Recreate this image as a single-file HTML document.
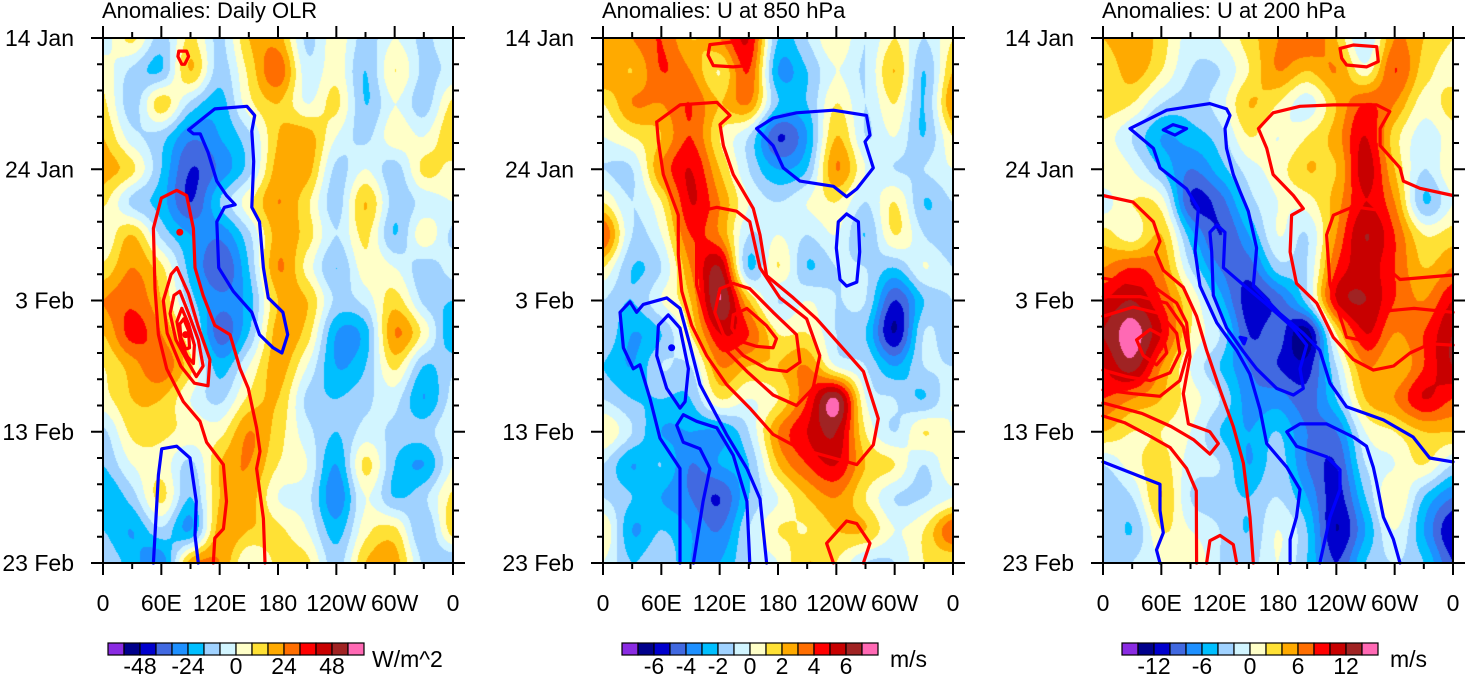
<!DOCTYPE html>
<html><head><meta charset="utf-8"><title>Hovmoller anomalies</title>
<style>
html,body{margin:0;padding:0;background:#fff;}
#wrap{position:relative;width:1466px;height:676px;overflow:hidden;font-family:"Liberation Sans",Arial,sans-serif;}
canvas{position:absolute;top:38px;}
svg{position:absolute;left:0;top:0;}
text{font-family:"Liberation Sans",Arial,sans-serif;fill:#000;}
</style></head>
<body>
<div id="wrap">
<canvas id="c0" width="350" height="525" style="left:103px"></canvas>
<canvas id="c1" width="350" height="525" style="left:603px"></canvas>
<canvas id="c2" width="350" height="525" style="left:1103px"></canvas>
<svg id="s" width="1466" height="676"></svg>
</div>
<script>
const colors=['#8a2be2','#00008b','#0000cd','#4169e1','#1e90ff','#00bfff','#a0d2ff','#d2f5ff','#ffffc8','#ffe135','#ffaa00','#ff6e00','#ff0000','#c80000','#a02323','#ff69b4'];
const titles=['Anomalies: Daily OLR','Anomalies: U at 850 hPa','Anomalies: U at 200 hPa'];
const units=['W/m^2','m/s','m/s'];
const steps=[8,1,2];
const cbLabels=[['-48','-24','0','24','48'],['-6','-4','-2','0','2','4','6'],['-12','-6','0','6','12']];
const cbLabelIdx=[[1,4,7,10,13],[1,3,5,7,9,11,13],[1,4,7,10,13]];
const yTickLabels=['14 Jan','24 Jan','3 Feb','13 Feb','23 Feb'];
const yTickDays=[0,10,20,30,40];
const xTickLabels=['0','60E','120E','180','120W','60W','0'];
const xTickLons=[0,60,120,180,240,300,360];
// grids: rows = day 0..40 step 2.5, cols = lon 0..360 step 30
const olr=[
[-5,10,-12,10,-10,16,20,-10,5,-12,0,-10,0],
[5,-10,-16,16,-12,10,30,-5,5,-16,8,-10,-5],
[10,-12,12,-10,-20,5,16,0,10,-16,0,-12,10],
[16,-5,-12,-30,-24,-10,16,20,0,-10,5,0,16],
[20,10,-16,-40,-30,-12,20,20,-10,0,-12,10,5],
[10,-10,-20,-40,-16,5,24,10,-12,16,-12,-5,0],
[0,16,-10,-24,-30,-10,20,12,-8,10,-16,5,-10],
[10,24,10,-20,-40,-16,24,5,-16,5,0,-12,-5],
[24,30,16,-12,-30,-20,16,16,-10,-5,12,-10,-16],
[16,35,24,0,-36,-16,20,12,-24,-20,24,5,-24],
[8,20,30,10,-20,0,20,0,-24,-16,10,-16,-10],
[5,16,16,0,-10,10,16,-10,-16,-10,-5,-24,-5],
[-10,10,10,5,5,24,12,-5,-16,-5,-10,-12,0],
[-16,0,5,-10,16,24,8,0,-24,10,-16,-24,0],
[-24,-12,10,-16,16,20,0,-5,-30,0,-16,-10,10],
[-16,-24,-10,-24,20,16,10,0,-20,5,10,-16,12],
[-10,-20,-30,20,24,0,10,10,-12,16,20,-10,-16]];
const u850=[
[2,3,4,2,3,5,-2,-1,1,-1,1,-1,1],
[3,2,4,3,1,4,-3,-2,0,-1,2,-2,2],
[1,3,3,4,2,3,-2,-2,1,-1,1,-2,3],
[0,1,2,4,1,-1,-5,-3,2,-1,0,-2,1],
[-1,-1,3,5,2,-1,-3,-2,3,0,-1,-1,0],
[1,-1,1,5,3,0,-1,0,1,-1,1,-2,-1],
[4,-1,0,4,3,-1,0,-1,0,-2,1,-1,-2],
[1,-2,-1,3,6,-2,1,-2,-1,-1,-2,0,-1],
[-1,-2,0,2,7,2,-1,0,-1,-1,-5,-2,-1],
[-1,-3,-2,1,5,4,1,1,-1,-2,-6,-1,-2],
[-2,-3,-1,-1,3,2,2,3,0,-1,-3,-1,-1],
[-1,-2,-2,-2,1,0,1,4,7,0,-1,-2,0],
[1,-1,-3,-3,-3,-1,3,5,6,1,-1,1,0],
[-1,-3,-2,-4,-3,-2,2,4,5,2,1,-1,1],
[-1,-2,-3,-4,-5,-2,0,2,3,1,-1,-1,0],
[1,-3,-2,-3,-4,-1,1,1,2,2,0,1,4],
[0,-2,-1,-3,-3,-1,0,2,1,-1,-1,1,1]];
const u200=[
[4,6,3,-1,0,3,6,8,4,-2,6,4,2],
[2,5,2,-2,-2,2,6,4,6,1,8,3,1],
[3,2,-2,-3,-1,4,2,-1,4,8,6,1,3],
[1,-2,-6,-5,-3,2,0,2,5,10,3,-1,1],
[2,0,-4,-8,-5,-1,1,4,4,11,4,-2,2],
[-1,2,1,-10,-9,-3,0,1,5,10,6,-4,0],
[3,1,4,-5,-10,-6,0,-2,6,12,8,2,3],
[6,8,6,-2,-8,-9,-3,-2,8,11,8,4,6],
[10,12,8,2,-5,-11,-9,-3,10,12,8,6,10],
[12,15,10,2,-2,-10,-9,-13,2,10,6,8,12],
[10,13,6,0,-4,-8,-10,-11,-2,6,4,8,12],
[8,6,4,1,-2,-7,-7,-9,-4,4,6,10,8],
[4,2,2,0,-4,-6,-4,-8,-8,0,2,4,4],
[-2,1,3,-1,-2,-6,-3,-8,-10,-2,0,2,-2],
[-4,-2,4,-2,-3,-4,-2,-6,-11,-4,2,-4,-8],
[-2,-4,2,0,-2,-4,0,-4,-12,-6,0,-6,-12],
[-4,-2,0,2,-2,-3,0,-4,-10,-4,-2,-4,-10]];
// contours: [lon, day] points
const p1Red=[
[[78,1],[86,1],[88,1.4],[84,2],[81,2],[77,1.4],[78,1]],
[[113.5,40],[115,38.1],[123.8,37.4],[127,35.3],[123.8,32.5],[106.6,30.8],[99.8,29.2],[82.6,27.7],[65.5,25.2],[57,22.6],[53.5,19.1],[51.8,14.5],[60,12.2],[75.8,11.6],[86,12],[93,14.5],[94.6,17.5],[103,19.6],[115,21.9],[130.6,22.6],[141,25.2],[149.5,26.7],[158,29.7],[161.5,31.5],[158,32.8],[165,36.6],[166.6,40]],
[[76,17.5],[88,19.5],[98,22],[110,24.5],[108,26.5],[94,26.3],[80,25],[66,22.5],[62,20],[70,18],[76,17.5]],
[[79,19.3],[88,21],[98,23],[103,25],[96,25.8],[86,24.5],[75,23],[69,21],[73,19.6],[79,19.3]],
[[81,20.6],[88,21.8],[94,23.4],[93,24.8],[87,24.3],[80,23.2],[76,21.6],[81,20.6]],
[[83,21.4],[88,22.3],[89,23.6],[85,23.7],[80,22.8],[79,21.8],[83,21.4]]];
const p1Blue=[
[[88,7],[98,6.4],[115,5.4],[148,5.2],[156,5.9],[153,7.1],[155,9.4],[153,12.9],[161,14],[165,17.5],[170,19.8],[185,20.9],[190,22.6],[184,24],[175,23.6],[161,22.6],[153,20.9],[134,19.3],[119,17.5],[117,14],[125,12.9],[136,12.7],[127,12],[117,10.9],[108,8.7],[100,7.3],[93,7.3],[88,7]],
[[51.8,40],[57,33.3],[60.4,31.3],[75.8,31.1],[89.5,32],[96,35.3],[94.6,37.9],[98,40]]];
const p1Dots=[[85,22.6,'r'],[79,14.8,'r']];
const p2Red=[
[[110,0.5],[134,0.3],[146,0.9],[148,2.1],[134,2.2],[113.5,2.1],[108,1.3],[110,0.5]],
[[55.2,6.4],[79.2,5.1],[117,4.9],[130.6,5.9],[120.3,6.6],[123.8,8.2],[134,10.4],[154.6,13],[161.5,15],[168.3,18.1],[195.8,19.8],[219.8,21.4],[243.8,23.4],[267.8,25.4],[274.6,27],[283.2,29],[278,31],[261,32.5],[237,32],[202.6,31.3],[175,30.2],[151,28.2],[127,26.4],[106.6,24.2],[91.2,21.9],[81,19.3],[77.5,16.5],[77.5,13.5],[62,10.4],[57,7.9],[55.2,6.4]],
[[99.8,13.2],[117,12.9],[137.5,13.2],[151,14],[161.5,17.5],[182,19.8],[209.5,21.4],[223,24.2],[216,26.7],[199,28],[175,27.2],[148,25.4],[123.8,23.6],[106.6,21.6],[96.3,18.8],[96.3,15.5],[99.8,13.2]],
[[120.3,19.1],[134,18.7],[151,19.1],[175,20.9],[199,22.6],[202.6,24.7],[189,25.4],[168.3,25.2],[144.4,24.2],[123.8,22.6],[115,20.9],[120.3,19.1]],
[[134,21.1],[148,20.6],[168,21.9],[178.5,22.9],[175,23.6],[158,23.5],[141,23.1],[132.5,22.1],[134,21.1]],
[[237,40],[230,38.5],[250.6,36.8],[261,37],[274.6,38.5],[267.8,40]]];
const p2Blue=[
[[158,6.9],[175,6.1],[199,5.7],[237,5.5],[271,5.9],[274.6,7.4],[269.5,7.9],[278,9.9],[261,11.5],[250.6,12.1],[237,11.3],[202.6,10.9],[185.5,9.9],[175,8.2],[158,6.9]],
[[250.6,13.4],[262.7,14],[264,16.3],[261,18.6],[250.6,18.9],[243.8,18.4],[240,16],[242,14],[250.6,13.4]],
[[168.3,40],[161.5,35.1],[148,32.8],[127,30.2],[99.8,26.4],[89.5,23.4],[79.2,20.6],[65.5,19.8],[41.5,20.3],[34.6,20.9],[27.8,20.1],[17.5,20.9],[21,23.6],[31.2,25.2],[38,24.9],[48.4,27.5],[58.6,30.5],[79.2,32.8],[79.2,40]],
[[67.2,21.1],[79.2,22.1],[87.8,25.2],[84.4,27.7],[79.2,28.2],[65.5,26.7],[55.2,24.2],[57,21.9],[67.2,21.1]],
[[93,40],[103,35.3],[110,32.8],[99.8,31.3],[82.6,30.8],[75.8,29.5],[82.6,28.7],[96.3,29.2],[117,29.7],[134,31.8],[148,35.3],[151,40]]];
const p2Dots=[[70.6,23.6,'b']];
const p3Red=[
[[243.8,0.79],[257.5,0.53],[281.5,0.66],[283.2,1.8],[271,2.2],[250.6,2.06],[245.5,1.55],[243.8,0.79]],
[[360,12],[326,11.45],[309,10.9],[305.5,9.9],[285,8.2],[285,6.9],[295,5.6],[281.5,5.1],[237,5.1],[202.6,5.2],[175,5.7],[159.8,6.9],[168.4,8.4],[175,10.4],[195.8,12],[206,13],[194,13.5],[192.4,16.3],[199,18.7],[219.8,20.2],[236.9,22.8],[257.5,24.5],[278,25.3],[298.7,25],[315.8,24],[336.4,23.3],[360,23.4]],
[[360,18.06],[305.5,18.4],[291.8,17.5],[291.8,14.5],[281.5,13.1],[257.5,12.85],[237,13.5],[230,15],[233.5,18.8],[243.8,21.2],[250.6,22.8],[271,23.1],[281.5,22.5],[290,20.8],[320,20.6],[360,20.9]],
[[0,12],[31,12.5],[51.8,14],[58.6,15.5],[54,16.3],[62,17.7],[82.6,19],[96.3,21.2],[106.6,23.8],[120.3,26.8],[134,29.6],[144.4,32.4],[151.2,36.5],[154.6,40]],
[[0,18.3],[31,18.7],[55,19.1],[75.8,20.2],[86,21.7],[89.5,24.3],[82.6,27.1],[87.8,29.4],[110,30],[118.6,30.9],[110,31.7],[93,30.6],[70,29.6],[40,28.6],[0,27.8]],
[[0,28.8],[22,29.3],[45,30.2],[69,31.2],[86,32.8],[96,34.5],[96.3,40]],
[[0.3,19.7],[38,19.7],[65.5,20.2],[82.6,22],[87.8,23.8],[79,26.1],[58.6,27.3],[31,27.1],[0,26.8]],
[[0,21.2],[31,20.5],[58.6,21],[75.8,22.5],[79,24],[69,25.5],[48.4,26.1],[24.3,25.8],[0,25.3]],
[[34.6,23],[48.4,22.2],[62,22.75],[65.5,24],[55,24.9],[41.5,24.2],[34.6,23]],
[[106.6,40],[110,38.3],[120.3,37.9],[134,38.6],[137.5,40]]];
const p3Blue=[
[[360,32.3],[336,32],[319,30.4],[288.4,29.1],[250.6,28.1],[233.5,26.3],[223,23.8],[206,22.5],[182,21],[154.6,18.9],[158,16],[149.5,13.2],[141,11.7],[134,10.4],[127,8.4],[125.5,6.9],[130.6,5.9],[127,5.4],[110,5],[65.5,5.5],[27.8,6.9],[51.8,8.4],[58.6,9.9],[86,11.5],[98,13],[94.6,16.2],[99.8,18.9],[117,21.7],[137.5,23.8],[151,25.6],[161.5,28.3],[168.4,30.9],[189,32.7],[202.6,34.4],[199,36.5],[192.4,38.2],[192.4,40]],
[[117,14.25],[125.5,14.8],[123.8,17.5],[141,18.6],[168.4,20.3],[195.8,22.1],[209.5,23.4],[202.6,25.2],[206,26.7],[195.8,27.2],[178.6,26.7],[158,25.2],[144.4,23.9],[127.2,22.1],[113.5,19.6],[111.8,16.3],[110,14.8],[117,14.25]],
[[223,40],[233.5,36.5],[243.8,34.4],[243.8,32.9],[230,31.9],[199,31.1],[189,30],[202.6,29.4],[230,29.4],[257.5,30.4],[271,31.1],[278,32.7],[281.5,33.9],[288.4,36.5],[298.7,38.2],[305.5,40]],
[[0,32.3],[31.2,33.2],[58.6,34],[58.6,36],[62,37.7],[55,39],[58.6,40]],
[[62,7],[72,6.6],[86,6.9],[74,7.4],[62,7]],
[[141,22.8],[147,22.9],[145,23.3],[141,22.8]]];
const p3Dots=[];

const grids=[olr,u850,u200];
const reds=[p1Red,p2Red,p3Red], blues=[p1Blue,p2Blue,p3Blue], dots=[p1Dots,p2Dots,p3Dots];
const X0=[103,603,1103], Y0=38, W=350, H=525;
const cbX=[108,622,1122], unitX=[372,890,1390];
function xs(p,lon){return X0[p]+lon/360*W;}
function ys(day){return Y0+day/40*H;}
function hex(c){return [parseInt(c.substr(1,2),16),parseInt(c.substr(3,2),16),parseInt(c.substr(5,2),16)];}
const rgb=colors.map(hex);
function cr(a,b,c,d,t){return b+0.5*t*(c-a+t*(2*a-5*b+4*c-d+t*(3*(b-c)+d-a)));}
grids.forEach((g,p)=>{
  const cv=document.getElementById('c'+p),ctx=cv.getContext('2d');
  const img=ctx.createImageData(W,H);const s=steps[p];
  const nr=g.length,nc=g[0].length;
  const G=(r,c)=>g[Math.max(0,Math.min(nr-1,r))][Math.max(0,Math.min(nc-1,c))];
  for(let j=0;j<H;j++){const gy=(j+0.5)/H*(nr-1);const r0=Math.min(Math.floor(gy),nr-2),fy=gy-r0;
    for(let i=0;i<W;i++){const gx=(i+0.5)/W*(nc-1);const c0=Math.min(Math.floor(gx),nc-2),fx=gx-c0;
      const rows=[];
      for(let k=-1;k<=2;k++)rows.push(cr(G(r0+k,c0-1),G(r0+k,c0),G(r0+k,c0+1),G(r0+k,c0+2),fx));
      const v=cr(rows[0],rows[1],rows[2],rows[3],fy);
      let k=Math.floor(v/s+8);k=Math.max(0,Math.min(15,k));
      const o=(j*W+i)*4;img.data[o]=rgb[k][0];img.data[o+1]=rgb[k][1];img.data[o+2]=rgb[k][2];img.data[o+3]=255;}}
  ctx.putImageData(img,0,0);
});
const svg=document.getElementById('s');const NS='http://www.w3.org/2000/svg';
function mk(tag,at,parent){const e=document.createElementNS(NS,tag);for(const k in at)e.setAttribute(k,at[k]);(parent||svg).appendChild(e);return e;}
function line(x1,y1,x2,y2,w,g){return mk('line',{x1:x1,y1:y1,x2:x2,y2:y2,stroke:'#000','stroke-width':w},g);}
for(let p=0;p<3;p++){
  const g=mk('g',{});
  
  
  const cg=mk('g',{fill:'none','stroke-width':3.2,'stroke-linejoin':'round','stroke-linecap':'round'},g);
  
  
  [[reds[p],'#ff0000','positive-contour'],[blues[p],'#0000ff','negative-contour']].forEach(([set,col,nm])=>{
    set.forEach(pts=>{
      const pl=mk('polyline',{points:pts.map(q=>xs(p,q[0]).toFixed(1)+','+ys(q[1]).toFixed(1)).join(' '),stroke:col},cg);
      
      
    });
  });
  dots[p].forEach(d=>{
    const c=mk('circle',{cx:xs(p,d[0]),cy:ys(d[1]),r:3.5,fill:d[2]=='r'?'#ff0000':'#0000ff'},cg);
    
    
  });
  const fr=mk('rect',{x:X0[p],y:Y0,width:W,height:H,fill:'none',stroke:'#000','stroke-width':2},g);
  
  
  for(let d=0;d<=40;d+=2){const maj=d%10==0,L=maj?12:6,y=ys(d);
    line(X0[p]-L,y,X0[p],y,2,g);line(X0[p]+W,y,X0[p]+W+L,y,2,g);}
  for(let lon=0;lon<=360;lon+=30){const maj=lon%60==0,L=maj?12:6,x=xs(p,lon);
    line(x,Y0-L,x,Y0,2,g);line(x,Y0+H,x,Y0+H+L,2,g);}
  yTickLabels.forEach((t,i)=>{const e=mk('text',{x:X0[p]-29,y:ys(yTickDays[i])+8,'font-size':23,'text-anchor':'end'},g);e.textContent=t;
    
    });
  xTickLabels.forEach((t,i)=>{const e=mk('text',{x:xs(p,xTickLons[i]),y:611,'font-size':23,'text-anchor':'middle'},g);e.textContent=t;
    
    });
  const ti=mk('text',{x:X0[p]-1,y:18,'font-size':22},g);ti.textContent=titles[p];
  
  
  const cb=mk('g',{},g);
  
  
  colors.forEach((c,k)=>{const r=mk('rect',{x:cbX[p]+k*16,y:643,width:16,height:12,fill:c,stroke:'#000','stroke-width':1.2},cb);
    
    });
  cbLabels[p].forEach((t,i)=>{const e=mk('text',{x:cbX[p]+(cbLabelIdx[p][i]+1)*16,y:674,'font-size':23,'text-anchor':'middle'},cb);e.textContent=t;
    
    });
  const u=mk('text',{x:unitX[p],y:667,'font-size':23},cb);u.textContent=units[p];
  
  
}
</script>
</body></html>
